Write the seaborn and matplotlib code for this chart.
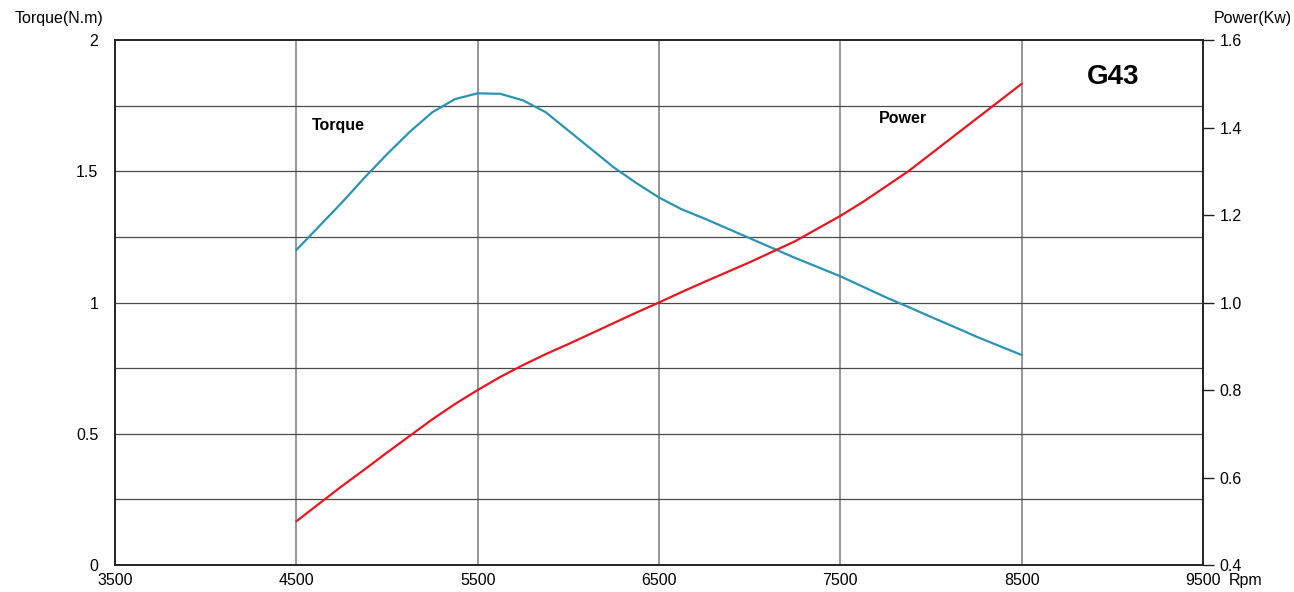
import numpy as np
import pandas as pd
import matplotlib
matplotlib.use("Agg")
import matplotlib.pyplot as plt
import seaborn as sns

# values
rpm = [4500, 4625, 4750, 4875, 5000, 5125, 5250, 5375, 5500, 5625, 5750,
       5875, 6000, 6125, 6250, 6375, 6500, 6625, 6750, 7000, 7250, 7500,
       7625, 7750, 7875, 8000, 8125, 8250, 8375, 8500]
torque = [1.20, 1.29, 1.38, 1.475, 1.565, 1.65, 1.725, 1.775, 1.797, 1.795, 1.77,
          1.725, 1.655, 1.585, 1.515, 1.455, 1.40, 1.355, 1.32, 1.245, 1.17, 1.10,
          1.06, 1.02, 0.983, 0.945, 0.908, 0.87, 0.835, 0.80]
power = [0.50, 0.54, 0.58, 0.618, 0.657, 0.695, 0.733, 0.768, 0.80, 0.83, 0.857,
         0.882, 0.905, 0.929, 0.953, 0.977, 1.00, 1.024, 1.047, 1.092, 1.14, 1.198,
         1.23, 1.265, 1.30, 1.34, 1.38, 1.42, 1.46, 1.50]

x_ticks = [3500, 4500, 5500, 6500, 7500, 8500, 9500]
torque_ticks = [0, 0.5, 1, 1.5, 2]
torque_labels = ["0", "0.5", "1", "1.5", "2"]
power_ticks = [0.4, 0.6, 0.8, 1.0, 1.2, 1.4, 1.6]

df = pd.DataFrame({"rpm": rpm, "torque": torque, "power": power})

sns.set_style("white")
plt.rcParams["font.family"] = ["Liberation Sans", "DejaVu Sans"]
plt.rcParams["text.color"] = "black"
plt.rcParams["xtick.color"] = "black"
plt.rcParams["ytick.color"] = "black"

fs = 11.5

fig = plt.figure(figsize=(12.94, 5.92), dpi=100)
ax = fig.add_axes([0.0889, 0.0456, 0.8408, 0.8868])

# grid
for xv in x_ticks[1:-1]:
    ax.axvline(xv, color="#7a7a7a", lw=1.1, zorder=1)
for yv in np.arange(0.25, 2.0, 0.25):
    ax.axhline(yv, color="#4a4a4a", lw=0.9, zorder=1)

sns.lineplot(data=df, x="rpm", y="torque", ax=ax, color="#2b93b5", lw=1.6, zorder=3)

ax.set_xlim(3500, 9500)
ax.set_ylim(0, 2)
ax.set_xticks(x_ticks)
ax.set_xticklabels([str(v) for v in x_ticks], fontsize=fs)
ax.set_yticks(torque_ticks)
ax.set_yticklabels(torque_labels, fontsize=fs)
ax.tick_params(axis="x", length=0, pad=6)
ax.tick_params(axis="y", length=0, pad=12)
ax.set_xlabel("")
ax.set_ylabel("")
for s in ax.spines.values():
    s.set_color("#222222")
    s.set_linewidth(1.2)

ax2 = ax.twinx()
sns.lineplot(data=df, x="rpm", y="power", ax=ax2, color="#e8161e", lw=1.6, zorder=3)
ax2.set_ylim(0.4, 1.6)
ax2.set_yticks(power_ticks)
ax2.set_yticklabels([f"{v:.1f}" for v in power_ticks], fontsize=fs)
ax2.tick_params(axis="y", length=8, width=1, color="#222222", pad=4)
ax2.set_ylabel("")
for s in ax2.spines.values():
    s.set_color("#222222")
    s.set_linewidth(1.2)

ax.text(4585, 1.675, "Torque", fontsize=fs, fontweight="bold", va="center", ha="left")
ax.text(7715, 1.70, "Power", fontsize=fs, fontweight="bold", va="center", ha="left")
ax.text(9005, 1.86, "G43", fontsize=20, fontweight="bold", va="center", ha="center")

fig.text(15 / 1294, 1 - 18 / 592, "Torque(N.m)", fontsize=fs, va="center", ha="left")
fig.text(1292 / 1294, 1 - 18 / 592, "Power(Kw)", fontsize=fs, va="center", ha="right")
fig.text(1229 / 1294, 1 - 580 / 592, "Rpm", fontsize=fs, va="center", ha="left")

fig.savefig("out.png", dpi=100)
